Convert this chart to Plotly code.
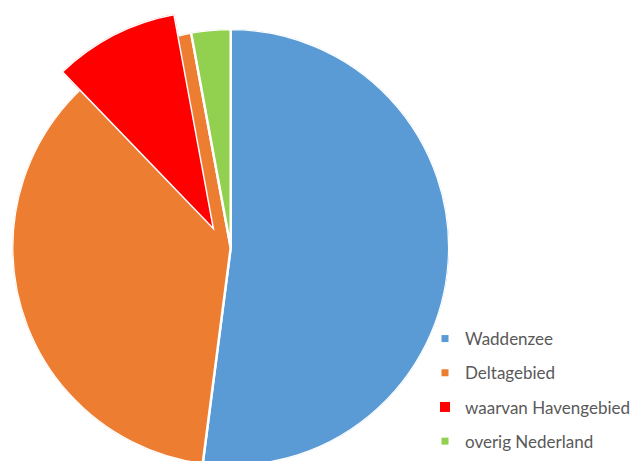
import math
import plotly.graph_objects as go

# ---- data (percent of total) ----
regions = ["Waddenzee", "Deltagebied", "overig Nederland"]
shares = [52.05, 45.05, 2.90]
region_colors = ["#5B9BD5", "#ED7D31", "#92D050"]

sub_label = "waarvan Havengebied"
sub_share = 9.3
sub_color = "#FF0000"

legend_labels = ["Waddenzee", "Deltagebied", "waarvan Havengebied", "overig Nederland"]
legend_colors = ["#5B9BD5", "#ED7D31", "#FF0000", "#92D050"]
legend_sizes = [7, 7, 10, 7]

W, H = 652, 461
OFF = 8  # page body margin

fig = go.Figure()

# main pie drawn as polar sectors (clockwise from 12 o'clock)
widths = [s * 3.6 for s in shares]
centers = []
acc = 0.0
for w in widths:
    centers.append(acc + w / 2)
    acc += w
fig.add_trace(go.Barpolar(
    r=[1] * len(shares), theta=centers, width=widths, text=regions,
    marker=dict(color=region_colors, line=dict(color="white", width=2.5)),
    showlegend=False, subplot="polar", hoverinfo="text",
))

# exploded sub-slice (Havengebied)
end_deg = (shares[0] + shares[1]) * 3.6
width_deg = sub_share * 3.6
fig.add_trace(go.Barpolar(
    r=[1], theta=[end_deg - width_deg / 2], width=[width_deg],
    marker=dict(color=sub_color, line=dict(color="white", width=3)),
    showlegend=False, subplot="polar2", name=sub_label,
))

# legend entries
for lab, col, sz in zip(legend_labels, legend_colors, legend_sizes):
    fig.add_trace(go.Scatter(
        x=[None], y=[None], mode="markers", name=lab, legendgroup=lab,
        marker=dict(symbol="square", size=sz, color=col),
    ))

# geometry (screen px -> figure px)
cx, cy, r = 230.7 - OFF, 247.5 - OFF, 218.5
apex_x, apex_y, rr = 214.6 - OFF, 231.1 - OFF, 221.0
a0 = (90 - end_deg) % 360
a1 = a0 + width_deg
bx = -math.cos(math.radians(a1)) * rr
by = math.sin(math.radians(a0)) * rr

hidden_axes = dict(
    bgcolor="rgba(0,0,0,0)", hole=0,
    radialaxis=dict(visible=False, range=[0, 1]),
    angularaxis=dict(visible=False, direction="clockwise", rotation=90),
)

fig.update_layout(
    width=W, height=H, margin=dict(l=0, r=0, t=0, b=0),
    paper_bgcolor="white", plot_bgcolor="white",
    font=dict(family="Lato, Carlito, sans-serif", size=17, color="#595959"),
    xaxis=dict(visible=False), yaxis=dict(visible=False),
    polar=dict(domain=dict(x=[(cx - r) / W, (cx + r) / W],
                           y=[(H - (cy + r)) / H, (H - (cy - r)) / H]),
               **hidden_axes),
    polar2=dict(domain=dict(x=[(apex_x - bx) / W, apex_x / W],
                            y=[(H - apex_y) / H, (H - (apex_y - by)) / H]),
                sector=[a0, a1], **hidden_axes),
    legend=dict(x=417 / W, xanchor="left", y=(H - 313) / H, yanchor="top",
                traceorder="grouped", tracegroupgap=9.1, bgcolor="rgba(0,0,0,0)",
                font=dict(size=17, color="#595959")),
    showlegend=True,
)

fig.write_html("out.html")
